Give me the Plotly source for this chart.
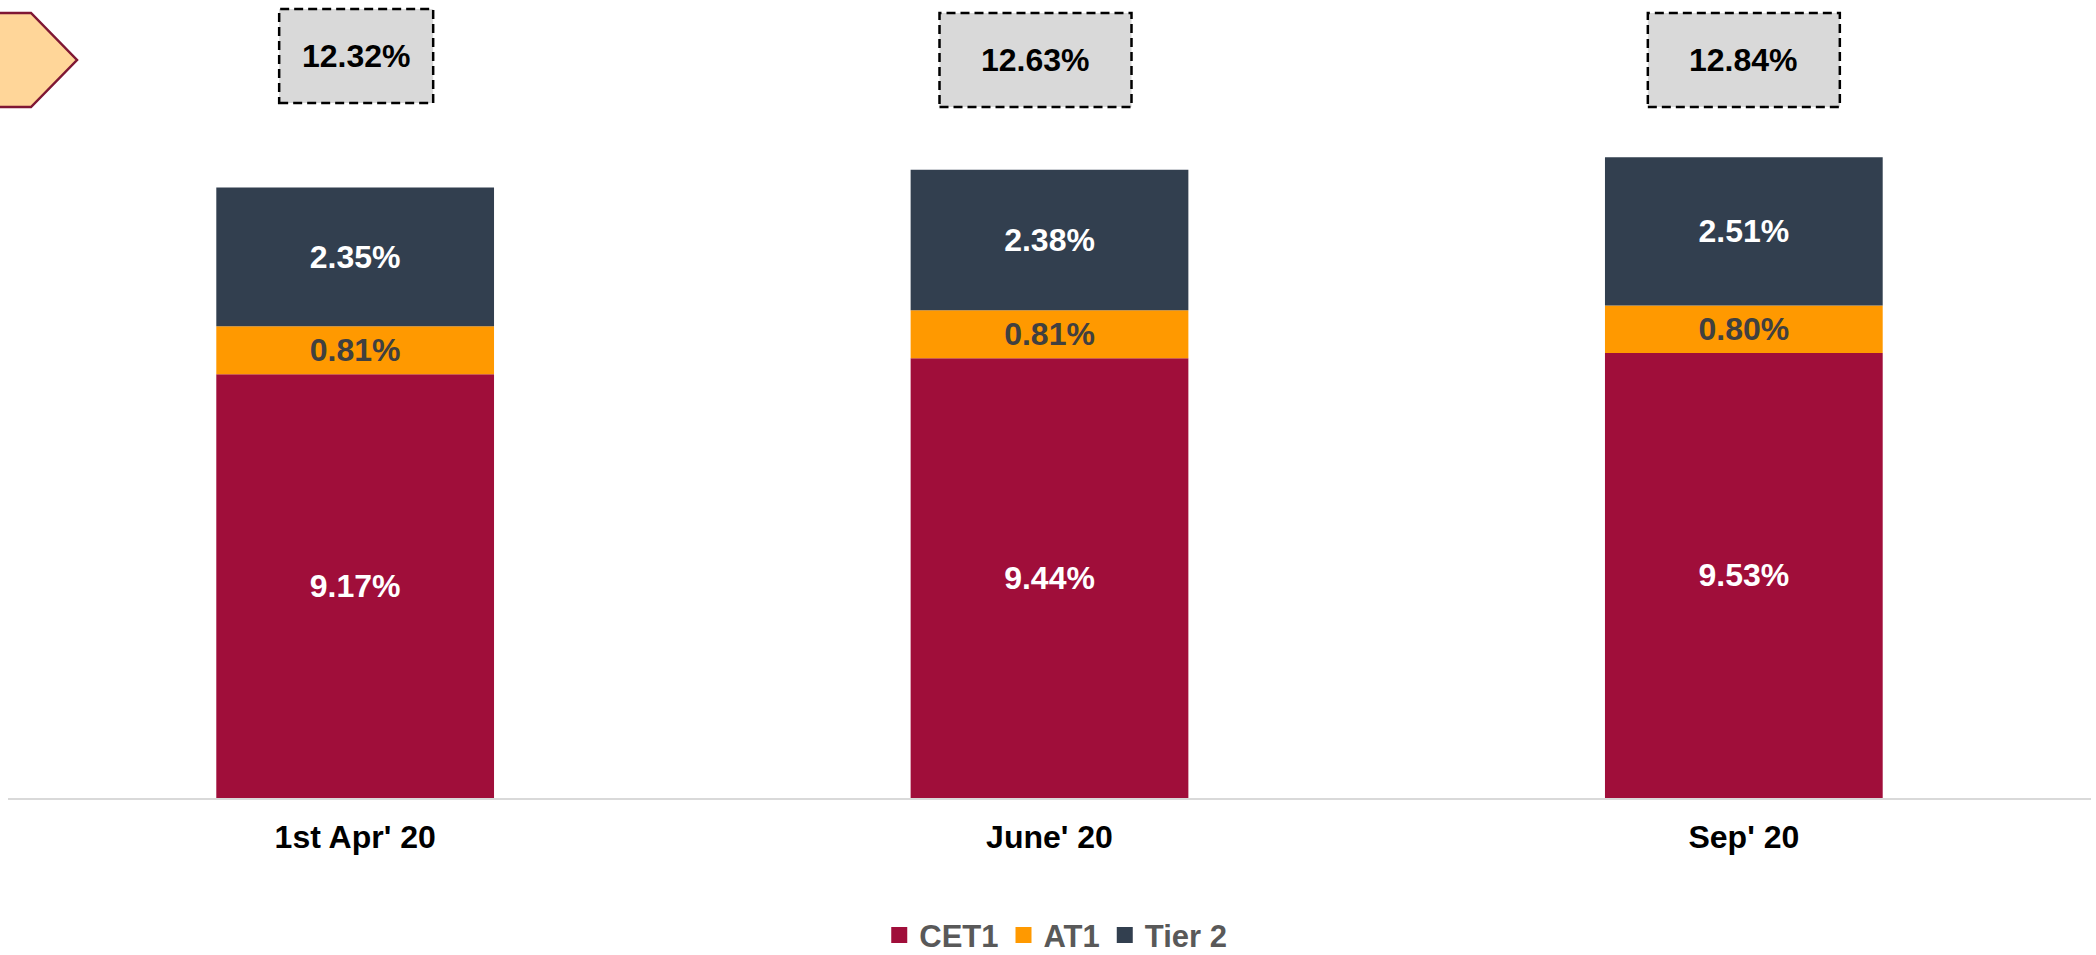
import plotly.graph_objects as go

# ---- data ----
categories = ["1st Apr' 20", "June' 20", "Sep' 20"]
cet1 = [9.17, 9.44, 9.53]
at1 = [0.81, 0.81, 0.80]
tier2 = [2.35, 2.38, 2.51]
totals = [12.32, 12.63, 12.84]
series_names = ["CET1", "AT1", "Tier 2"]

# ---- styles ----
AXIS_MIN = 2.0
AXIS_MAX = 15.5
colors = {"CET1": "#A00E3A", "AT1": "#FF9900", "Tier 2": "#323F4F"}
label_colors = {"CET1": "#FFFFFF", "AT1": "#404040", "Tier 2": "#FFFFFF"}
FONT = "Liberation Sans, Arial, sans-serif"
box_x_offsets = [-76, -110, -96]   # px, left edge relative to category centre
box_widths = [154, 192, 192]
box_y_centers = [0.9298, 0.9248, 0.9248]  # paper
box_half_h = 47

def fmt(vals):
    return [f"{v:.2f}%" for v in vals]

fig = go.Figure()

bases = {
    "CET1": [AXIS_MIN] * len(categories),
    "AT1": list(cet1),
    "Tier 2": [c + a for c, a in zip(cet1, at1)],
}
heights = {
    "CET1": [c - AXIS_MIN for c in cet1],
    "AT1": at1,
    "Tier 2": tier2,
}
values = {"CET1": cet1, "AT1": at1, "Tier 2": tier2}

for name in series_names:
    fig.add_trace(go.Bar(
        name=name,
        x=categories,
        y=heights[name],
        base=bases[name],
        text=fmt(values[name]),
        textposition="inside",
        insidetextanchor="middle",
        constraintext="none",
        textfont=dict(family=FONT, size=32, color=label_colors[name], weight="bold"),
        marker=dict(color=colors[name], line=dict(width=0)),
        hoverinfo="skip",
        showlegend=False,
    ))

# legend entries with square markers
for name in series_names:
    fig.add_trace(go.Scatter(
        name=name, x=[None], y=[None], mode="markers",
        marker=dict(symbol="square", size=17, color=colors[name]),
        showlegend=True, hoverinfo="skip",
    ))

# total boxes
for i, cat in enumerate(categories):
    fig.add_shape(
        type="rect", xref="x", yref="paper",
        xsizemode="pixel", ysizemode="pixel",
        xanchor=cat, yanchor=box_y_centers[i],
        x0=box_x_offsets[i], x1=box_x_offsets[i] + box_widths[i],
        y0=-box_half_h, y1=box_half_h,
        fillcolor="#D9D9D9",
        line=dict(color="#000000", width=2.5, dash="9px,5px"),
        layer="above",
    )
    fig.add_annotation(
        xref="x", yref="paper", x=cat, y=box_y_centers[i],
        xshift=box_x_offsets[i] + box_widths[i] / 2,
        text=f"{totals[i]:.2f}%", showarrow=False,
        font=dict(family=FONT, size=32, color="#000000", weight="bold"),
        xanchor="center", yanchor="middle",
    )

# decorative pentagon arrow at top-left
fig.add_shape(
    type="path", xref="paper", yref="paper",
    xsizemode="pixel", ysizemode="pixel", xanchor=0, yanchor=1,
    path="M -20 -13 L 23 -13 L 69 -60 L 23 -107 L -20 -107 Z",
    fillcolor="#FFD699",
    line=dict(color="#7F1734", width=2.5),
    layer="above",
)

fig.update_layout(
    width=2096, height=955,
    margin=dict(l=8, r=5, t=0, b=157, autoexpand=False),
    paper_bgcolor="#FFFFFF", plot_bgcolor="#FFFFFF",
    barmode="overlay",
    bargap=0.6,
    showlegend=True,
    legend=dict(
        orientation="h", x=0.503, xanchor="center", y=-0.172, yanchor="middle",
        font=dict(family=FONT, size=31, color="#595959", weight="bold"),
        itemwidth=30, traceorder="normal",
    ),
    xaxis=dict(
        type="category", showline=True, linecolor="#D9D9D9", linewidth=1.5,
        showgrid=False, zeroline=False, ticks="", automargin=False,
        tickfont=dict(family=FONT, size=32, color="#000000", weight="bold"),
        ticklabelstandoff=10,
    ),
    yaxis=dict(range=[AXIS_MIN, AXIS_MAX], visible=False, showgrid=False,
               zeroline=False, automargin=False),
    font=dict(family=FONT),
)

fig.write_html(
    "out.html",
    config={"displayModeBar": False},
    post_script="document.body.style.margin='0';document.body.style.overflow='hidden';",
)
